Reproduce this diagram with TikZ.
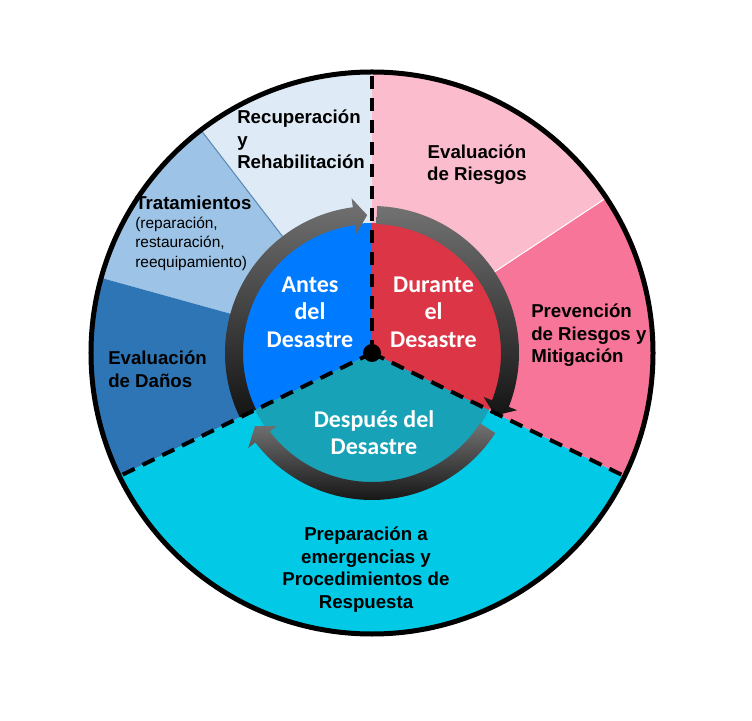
\documentclass[tikz,border=0pt]{standalone}
\usepackage{fontspec}
\setmainfont{Liberation Sans}
\newfontfamily\calibri{Carlito}
\usetikzlibrary{positioning}

\definecolor{recup}{HTML}{DEEBF7}
\definecolor{trat}{HTML}{9DC3E6}
\definecolor{danos}{HTML}{2E75B6}
\definecolor{riesgos}{HTML}{FBBDCE}
\definecolor{prev}{HTML}{F67599}
\definecolor{prep}{HTML}{02CAE6}
\definecolor{antes}{HTML}{007BFF}
\definecolor{durante}{HTML}{DC3545}
\definecolor{despues}{HTML}{17A2B8}
\definecolor{sepblue}{HTML}{5B86B0}
\definecolor{arrowtop}{HTML}{727272}
\definecolor{arrowbot}{HTML}{141414}

\begin{document}
\begin{tikzpicture}[x=0.75pt, y=0.75pt]
\tikzset{
    outer/.style={font=\bfseries\fontsize{14}{16.9}\selectfont, inner sep=0pt},
    leftlabel/.style={outer, align=left, anchor=west},
    centerlabel/.style={outer, align=center},
    note/.style={font=\fontsize{11.6}{14.6}\selectfont, align=left, inner sep=0pt},
    phase/.style={font=\calibri\bfseries\fontsize{18}{20.5}\selectfont, text=white, align=center, inner sep=0pt},
    divider/.style={line width=3pt, dash pattern=on 10pt off 6.5pt},
    rim/.style={line width=3.75pt},
    ringarrow/.style={top color=arrowtop, bottom color=arrowbot},
    dot/.style={circle, fill=black, minimum size=13.5pt, inner sep=0pt}
}

% Fondo y marco
\fill[white] (-372,-367) rectangle (380,353);
\useasboundingbox (-372,-367) rectangle (380,353);

\coordinate (hub) at (0,0);
\coordinate (rimN) at (90:281);
\coordinate (rimL) at (206:281);
\coordinate (rimR) at (-26:281);

% Sectores exteriores
\foreach \ini/\fin/\col in {90/127.5/recup, 127.5/164.5/trat, 164.5/206/danos, 206/334/prep, -26/33.5/prev, 33.5/90/riesgos}
    \fill[\col] (hub) -- (\ini:281) arc[start angle=\ini, end angle=\fin, radius=281] -- cycle;

\draw[white, line width=0.75pt] (hub) -- (33.5:281);
\draw[sepblue, line width=0.75pt] (hub) -- (127.5:281);
\draw[rim] (hub) circle[radius=281];

% Sectores interiores
\foreach \ini/\fin/\col in {90/206/antes, -26/90/durante, 206/334/despues}
    \fill[\col] (hub) -- (\ini:130) arc[start angle=\ini, end angle=\fin, radius=130] -- cycle;

% Flechas del ciclo
\foreach \a/\b/\t in {206/97.5/92, 88/-21.5/-27, -33/-142.5/-148}
    \shade[ringarrow] (\a:147) arc[start angle=\a, end angle=\b, radius=147] -- (\b:156) -- (\t:138) -- (\b:120) -- (\b:129) arc[start angle=\b, end angle=\a, radius=129] -- cycle;

% Divisiones
\draw[divider] (hub) -- (rimN);
\draw[divider] (hub) -- (rimL);
\draw[divider] (hub) -- (rimR);
\node[dot] (centro) at (hub) {};

% Textos exteriores
\node[leftlabel] (recuperacion) at (-135,213.5) {Recuperación\\y\\Rehabilitación};
\node[leftlabel] (tratamientos) at (-237,150) {Tratamientos};
\node[note, below=5pt of tratamientos.south west, anchor=north west] (detalle) {(reparación,\\restauración,\\reequipamiento)};
\node[leftlabel] (danos) at (-264,-16) {Evaluación\\de Daños};
\node[centerlabel] (riesgos) at (105,188.5) {Evaluación\\de Riesgos};
\node[leftlabel] (prevencion) at (159,17.5) {Prevención\\de Riesgos y\\Mitigación};
\node[centerlabel] (preparacion) at (-6,-216.5) {Preparación a\\emergencias y\\Procedimientos de\\Respuesta};

% Fases
\node[phase] (antes) at (-62,41) {Antes\\del\\Desastre};
\node[phase] (durante) at (61.5,41) {Durante\\el\\Desastre};
\node[phase] (despues) at (2,-80) {Después del\\Desastre};
\end{tikzpicture}
\end{document}
